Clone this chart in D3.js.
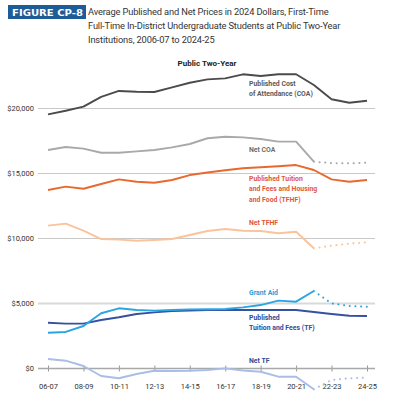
<!DOCTYPE html>
<html>
<head>
<meta charset="utf-8">
<script src="https://cdn.jsdelivr.net/npm/d3@7"></script>
<style>
  body { margin: 0; background: #fff; }
  svg { display: block; }
</style>
</head>
<body>
<svg width="395" height="403"></svg>
<script>
// data, 2024 dollars
const years = ['06-07','07-08','08-09','09-10','10-11','11-12','12-13','13-14','14-15','15-16',
    '16-17','17-18','18-19','19-20','20-21','21-22','22-23','23-24','24-25']
const tickYears = ['06-07','08-09','10-11','12-13','14-15','16-17','18-19','20-21','22-23','24-25']
const yTicks = [0, 5000, 10000, 15000, 20000]

const coa     = [19550,19830,20140,20900,21350,21290,21270,21630,21980,22240,22320,22630,22500,22630,22630,21810,20710,20440,20600]
const netCoa  = [16810,17040,16910,16600,16600,16700,16810,17010,17270,17710,17830,17780,17650,17450,17450,15910,15800,15780,15830]
const tfhf    = [13730,13990,13830,14190,14550,14370,14290,14500,14880,15080,15250,15400,15480,15560,15650,15270,14550,14370,14500]
const netTfhf = [10990,11140,10600,9960,9910,9830,9880,9960,10270,10580,10730,10600,10580,10400,10520,9250,9450,9600,9710]
const grant   = [2750,2810,3270,4250,4630,4500,4450,4500,4550,4560,4580,4700,4880,5220,5140,5960,5010,4810,4750]
const tf      = [3520,3450,3450,3730,3940,4190,4320,4420,4450,4500,4500,4500,4500,4500,4500,4350,4190,4060,4040]
const netTf   = [730,600,190,-580,-750,-420,-170,-190,-170,-110,10,-150,-250,-630,-630,-1600,-880,-750,-710]
const projFrom = 15  // index where projected (dotted) segment starts

const series = [
    { values: coa,     color: '#4b4b4b', dotted: false },
    { values: netCoa,  color: '#a9a9a9', dotted: true },
    { values: tfhf,    color: '#e8692e', dotted: false },
    { values: netTfhf, color: '#fbc39c', dotted: true },
    { values: tf,      color: '#35519f', dotted: false },
    { values: grant,   color: '#2ba5e1', dotted: true },
    { values: netTf,   color: '#aabde7', dotted: true }
]

const labels = [
    { lines: ['Published Cost', 'of Attendance (COA)'], y: 85.5, color: '#5a5a5a' },
    { lines: ['Net COA'], y: 151.5, color: '#6e6e6e' },
    { lines: ['Published Tuition', 'and Fees and Housing', 'and Food (TFHF)'], y: 181, color: '#e0573a' },
    { lines: ['Net TFHF'], y: 224.5, color: '#e0573a' },
    { lines: ['Grant Aid'], y: 295, color: '#2a9fd8' },
    { lines: ['Published', 'Tuition and Fees (TF)'], y: 320, color: '#2f4c99' },
    { lines: ['Net TF'], y: 363, color: '#2f4c99' }
]

const svg = d3.select('svg')

const x = d3.scalePoint().domain(years).range([48, 367])
const y = d3.scaleLinear().domain([0, 20000]).range([368.5, 108.5])

// header
svg.append('rect')
    .attr('x', 8).attr('y', 5).attr('width', 78).attr('height', 14)
    .attr('fill', '#1d5c97')
svg.append('text')
    .attr('x', 12).attr('y', 16)
    .attr('fill', '#fff')
    .attr('textLength', 71)
    .attr('lengthAdjust', 'spacingAndGlyphs')
    .style('font', 'bold 9.5px "DejaVu Sans", sans-serif')
    .text('FIGURE CP-8')

const titleLines = ['Average Published and Net Prices in 2024 Dollars, First-Time',
    'Full-Time In-District Undergraduate Students at Public Two-Year',
    'Institutions, 2006-07 to 2024-25']
svg.append('g').selectAll('text')
    .data(titleLines)
    .join('text')
    .attr('x', 88)
    .attr('y', (d, i) => 15 + i * 13.8)
    .attr('fill', '#333')
    .style('font', '9.3px Roboto, sans-serif')
    .style('letter-spacing', '-0.15px')
    .text(d => d)

svg.append('text')
    .attr('x', 207).attr('y', 66)
    .attr('text-anchor', 'middle')
    .attr('fill', '#222')
    .style('font', 'bold 8px Roboto, sans-serif')
    .text('Public Two-Year')

// grid
svg.append('g').selectAll('line')
    .data(yTicks.filter(d => d > 0))
    .join('line')
    .attr('x1', 38).attr('x2', 375)
    .attr('y1', d => y(d)).attr('y2', d => y(d))
    .attr('stroke', d => d === 5000 ? '#d9d9d9' : '#c8c8c8')
    .attr('stroke-width', d => d === 5000 ? 2.2 : 1)

svg.append('g').selectAll('text')
    .data(yTicks)
    .join('text')
    .attr('x', 34)
    .attr('y', d => y(d) + 2.5)
    .attr('text-anchor', 'end')
    .attr('fill', '#333')
    .style('font', '7.5px Roboto, sans-serif')
    .text(d => '$' + d3.format(',')(d))

// x axis
const xAxis = svg.append('g')
    .attr('transform', `translate(0,${y(0)})`)
    .call(d3.axisBottom(x).tickValues(tickYears).tickSize(3).tickSizeOuter(0).tickPadding(12))
xAxis.select('.domain').remove()
xAxis.append('line')
    .attr('x1', 38).attr('x2', 375)
    .attr('stroke', '#a8a8a8').attr('stroke-width', 1.5)
xAxis.selectAll('.tick line')
    .attr('y1', -3)
    .attr('stroke', '#999')
xAxis.selectAll('.tick text')
    .attr('fill', '#333')
    .style('font', '7.5px Roboto, sans-serif')

// lines
const line = d3.line()
    .x(d => x(d.year))
    .y(d => y(d.v))

series.forEach(s => {
    const pts = s.values.map((v, i) => ({ year: years[i], v: v, i: i }))
    const solid = s.dotted ? pts.filter(p => p.i <= projFrom) : pts
    svg.append('path')
        .attr('d', line(solid))
        .attr('fill', 'none')
        .attr('stroke', s.color)
        .attr('stroke-width', 1.9)
        .attr('stroke-linejoin', 'round')
    if (s.dotted) {
        svg.append('path')
            .attr('d', line(pts.filter(p => p.i >= projFrom)))
            .attr('fill', 'none')
            .attr('stroke', s.color)
            .attr('stroke-width', 2)
            .attr('stroke-linecap', 'round')
            .attr('stroke-dasharray', '0.1,5.6')
    }
})

// labels, squeezed to mimic the condensed face
labels.forEach(l => {
    svg.append('text')
        .attr('transform', `translate(249,${l.y}) scale(0.86,1)`)
        .attr('fill', l.color)
        .style('font', 'bold 8px Roboto, sans-serif')
        .selectAll('tspan')
        .data(l.lines)
        .join('tspan')
        .attr('x', 0)
        .attr('dy', (d, i) => i === 0 ? 0 : 10.4)
        .text(d => d)
})
</script>
</body>
</html>
